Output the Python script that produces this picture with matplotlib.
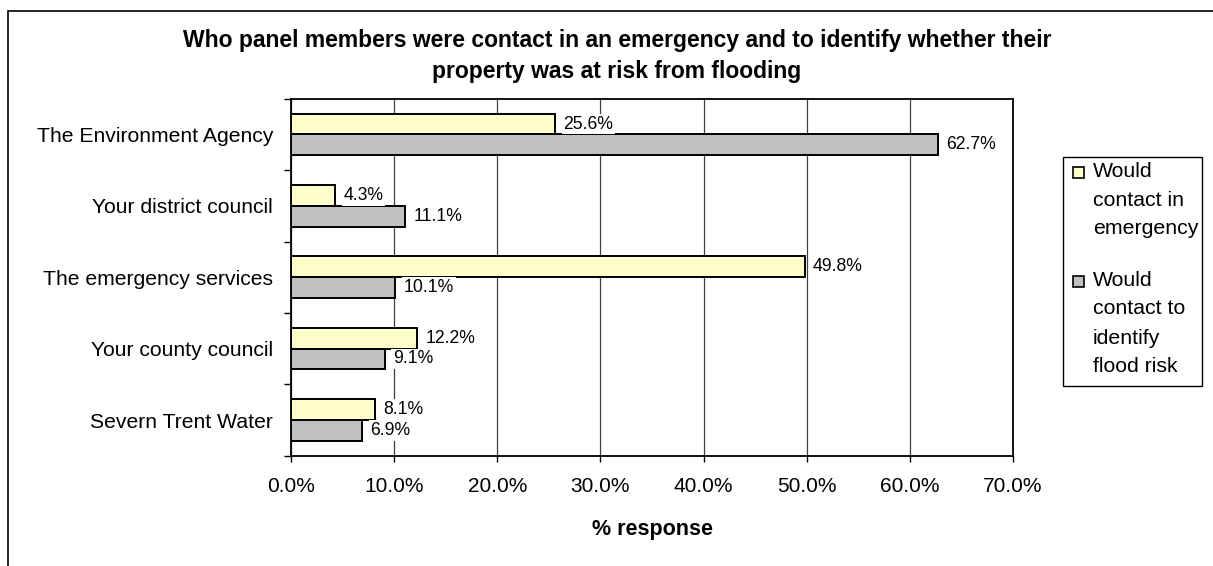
import matplotlib.pyplot as plt
from matplotlib.patches import Rectangle

plt.rcParams['font.family'] = ['Liberation Sans', 'DejaVu Sans']

categories = ['The Environment Agency', 'Your district council', 'The emergency services',
              'Your county council', 'Severn Trent Water']
emergency = [25.6, 4.3, 49.8, 12.2, 8.1]
flood_risk = [62.7, 11.1, 10.1, 9.1, 6.9]
series_names = [['Would', 'contact in', 'emergency'],
                ['Would', 'contact to', 'identify', 'flood risk']]
colors = ['#FFFFCC', '#C0C0C0']

W, H = 1213, 566
fig = plt.figure(figsize=(W / 100, H / 100), dpi=100)
ax = fig.add_axes([291 / W, 1 - 455.7 / H, (1013 - 291) / W, (455.7 - 98.7) / H])

# outer chart border (only top and left visible in the crop)
fig.patches.append(Rectangle((8.3 / W, -0.1), 1.2, 1 - 10.7 / H + 0.1, transform=fig.transFigure,
                             fill=False, edgecolor='black', linewidth=1.2))

y = list(range(len(categories)))
h = 0.29
bars1 = ax.barh([v - h / 2 for v in y], emergency, height=h, color=colors[0],
                edgecolor='black', linewidth=1.4, zorder=3)
bars2 = ax.barh([v + h / 2 for v in y], flood_risk, height=h, color=colors[1],
                edgecolor='black', linewidth=1.4, zorder=3)

for bars, vals in [(bars1, emergency), (bars2, flood_risk)]:
    for b, v in zip(bars, vals):
        ax.annotate(f'{v:.1f}%', (b.get_width(), b.get_y() + b.get_height() / 2),
                    xytext=(6, 0), textcoords='offset points', ha='left', va='center',
                    fontsize=12.7, zorder=5,
                    bbox=dict(boxstyle='square,pad=0.1', facecolor='white', edgecolor='none'))

ax.set_xlim(0, 70)
ax.set_ylim(4.5, -0.5)
ax.set_xticks(range(0, 71, 10))
ax.set_xticklabels([f'{t:.1f}%' for t in range(0, 71, 10)], fontsize=15)
ax.set_yticks(y)
ax.set_yticklabels(categories, fontsize=15.2)
ax.set_yticks([v - 0.5 for v in range(len(categories) + 1)], minor=True)
ax.tick_params(axis='y', which='major', length=0, pad=13)
ax.tick_params(axis='y', which='minor', length=5, width=1, direction='out')
ax.tick_params(axis='x', length=4.3, width=1, pad=11)
ax.grid(axis='x', color='#404040', linewidth=0.9, zorder=0)
ax.set_axisbelow(True)
for s in ax.spines.values():
    s.set_linewidth(1.3)
    s.set_zorder(4)

fig.text(617 / W, 1 - 56 / H,
         'Who panel members were contact in an emergency and to identify whether their\n'
         'property was at risk from flooding',
         ha='center', va='center', fontsize=16.5, fontweight='bold', linespacing=1.45)
fig.text(652 / W, 1 - 530 / H, '% response', ha='center', va='center',
         fontsize=15.5, fontweight='bold')

# legend box drawn by hand so the marker sits on the first line
fig.patches.append(Rectangle((1063 / W, 1 - 386 / H), 139 / W, 229 / H, transform=fig.transFigure,
                             facecolor='white', edgecolor='black', linewidth=1))
line_y = [[172, 200, 228], [281, 309, 338, 366]]
for name, ys, c in zip(series_names, line_y, colors):
    fig.patches.append(Rectangle((1073 / W, 1 - (ys[0] + 6) / H), 11 / W, 11 / H,
                                 transform=fig.transFigure, facecolor=c,
                                 edgecolor='black', linewidth=1.2))
    for line, yy in zip(name, ys):
        fig.text(1093 / W, 1 - yy / H, line, ha='left', va='center', fontsize=15.3)

fig.savefig('out.png', dpi=100)
